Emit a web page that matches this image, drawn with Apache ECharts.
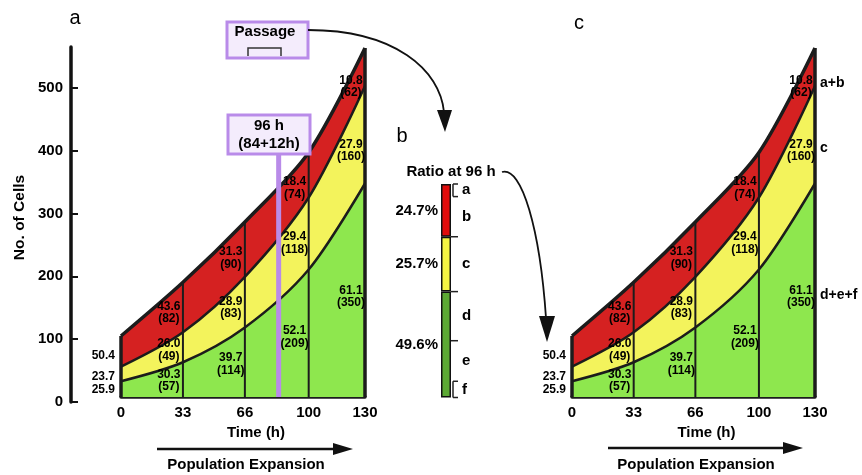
<!DOCTYPE html>
<html><head><meta charset="utf-8">
<script src="https://cdn.jsdelivr.net/npm/echarts@6/dist/echarts.min.js"></script>
<style>html,body{margin:0;padding:0;background:#fff}#c{width:862px;height:475px}</style>
</head><body><div id="c"></div>
<script>
// ---- data ----
const times = [0, 33, 66, 100, 130];
const xTickLabels = [0, 33, 66, 100, 130];
const yTickLabels = [0, 100, 200, 300, 400, 500];
const greenCells = [25.9, 57, 114, 209, 350];
const yellowCells = [23.7, 49, 83, 118, 160];
const redCells = [50.4, 82, 90, 74, 62];
const greenPct = [25.9, 30.3, 39.7, 52.1, 61.1];
const yellowPct = [23.7, 26.0, 28.9, 29.4, 27.9];
const redPct = [50.4, 43.6, 31.3, 18.4, 10.8];
const passageTime = 84;
const passageTop = 400;
const groupNames = ['d+e+f', 'c', 'a+b'];      // bottom to top
const ratioPct = [49.6, 25.7, 24.7];           // bottom to top
const subNames = ['f', 'e', 'd', 'c', 'b', 'a']; // bottom to top
const subPct = [7.6, 19.0, 23.0, 25.7, 18.8, 5.9];

const FONT = 'Liberation Sans, Arial, Helvetica, sans-serif';
const INK = '#1c1c1c';
const bandColors = ['#8ee74e', '#f3f35c', '#d52121'];
const barColors = ['#5ca934', '#f4f443', '#e10c0c'];

function textSeries(ax, items, align, dx, size) {
  return {
    type: 'custom', xAxisIndex: ax, yAxisIndex: ax, silent: true, z: 6,
    data: items.map(it => it.value),
    renderItem: function (params, api) {
      const p = api.coord([api.value(0), api.value(1)]);
      return {
        type: 'text', x: p[0] + dx, y: p[1],
        style: { text: items[params.dataIndex].text, fill: '#000', fontSize: size, fontWeight: 'bold',
          fontFamily: FONT, align: align, verticalAlign: 'middle', lineHeight: 12.5 }
      };
    }
  };
}

function panelSeries(ax, rightLabels, purple) {
  const s = [];
  const bands = [
    { vals: greenCells, pct: greenPct },
    { vals: yellowCells, pct: yellowPct },
    { vals: redCells, pct: redPct }
  ];
  const cum = bands.map((b, k) => times.map((t, i) => {
    let v = 0; for (let j = 0; j <= k; j++) v += bands[j].vals[i]; return v;
  }));
  [2, 1, 0].forEach(k => {
    s.push({
      type: 'line', xAxisIndex: ax, yAxisIndex: ax, smooth: 0.3,
      symbol: 'none', silent: true, z: 2,
      lineStyle: { color: INK, width: k === 2 ? 3.5 : 2.5 },
      areaStyle: { color: bandColors[k], opacity: 1 },
      data: times.map((t, i) => [t, cum[k][i]])
    });
  });
  const totals = cum[2];
  times.forEach((t, i) => {
    const edge = (i === 0 || i === times.length - 1);
    s.push({
      type: 'line', xAxisIndex: ax, yAxisIndex: ax, symbol: 'none', silent: true, z: 3,
      lineStyle: { color: INK, width: edge ? 3.5 : 2 },
      data: [[t, 0], [t, totals[i]]]
    });
  });
  if (purple) {
    s.push({
      type: 'line', xAxisIndex: ax, yAxisIndex: ax, symbol: 'none', silent: true, z: 4,
      lineStyle: { color: '#b98be9', width: 5 },
      data: [[passageTime, 0], [passageTime, passageTop]]
    });
  }
  const inner = [], left = [], right = [];
  times.forEach((t, i) => {
    bands.forEach((b, k) => {
      const lower = k === 0 ? 0 : cum[k - 1][i];
      const mid = lower + b.vals[i] / 2;
      if (i === 0) {
        left.push({ text: b.pct[i].toFixed(1), value: [t, mid * 0.9] });
      } else {
        inner.push({ text: b.pct[i].toFixed(1) + '\n(' + b.vals[i] + ')', value: [t - 7.5, mid * 0.94] });
      }
      if (rightLabels && i === times.length - 1) {
        right.push({ text: groupNames[k], value: [t, mid * 0.95] });
      }
    });
  });
  s.push(textSeries(ax, inner, 'center', 0, 12));
  s.push(textSeries(ax, left, 'right', -6, 12));
  if (rightLabels) s.push(textSeries(ax, right, 'left', 5, 14));
  return s;
}

const series = [].concat(panelSeries(1, false, true), panelSeries(2, true, false));

ratioPct.forEach((v, k) => {
  series.push({
    type: 'bar', xAxisIndex: 3, yAxisIndex: 3, stack: 'ratio', barWidth: 10, silent: true,
    itemStyle: { color: barColors[k], borderColor: '#111', borderWidth: 1.5 },
    data: [v]
  });
});
series.push({
  type: 'custom', xAxisIndex: 3, yAxisIndex: 3, silent: true, z: 5,
  data: [[0, 0]],
  renderItem: function (params, api) {
    const children = [];
    const cx = api.coord([0, 0])[0];
    const rEdge = cx + 5, bx = cx + 7, tEnd = cx + 12;
    const bounds = [0];
    let c = 0;
    subPct.forEach(v => { c += v; bounds.push(c); });
    const st = { stroke: '#222', lineWidth: 1.5 };
    const last = bounds.length - 1;
    bounds.forEach((b, i) => {
      const y = api.coord([0, b])[1];
      const x1 = (i === 0 || i === 1 || i === last || i === last - 1) ? bx : rEdge;
      children.push({ type: 'line', shape: { x1: x1, y1: y, x2: tEnd, y2: y }, style: st });
    });
    const vline = (a, b) => {
      children.push({ type: 'line', shape: { x1: bx, y1: api.coord([0, a])[1], x2: bx, y2: api.coord([0, b])[1] }, style: st });
    };
    vline(bounds[0], bounds[1]);
    vline(bounds[last - 1], bounds[last]);
    subNames.forEach((n, i) => {
      const y = api.coord([0, (bounds[i] + bounds[i + 1]) / 2])[1];
      children.push({ type: 'text', x: tEnd + 4, y: y, style: { text: n, fill: '#000', fontSize: 15, fontWeight: 'bold', fontFamily: FONT, align: 'left', verticalAlign: 'middle' } });
    });
    let g = 0;
    ratioPct.forEach(v => {
      const y = api.coord([0, g + v / 2])[1];
      g += v;
      children.push({ type: 'text', x: cx - 8, y: y, style: { text: v.toFixed(1) + '%', fill: '#000', fontSize: 15, fontWeight: 'bold', fontFamily: FONT, align: 'right', verticalAlign: 'middle' } });
    });
    return { type: 'group', children: children };
  }
});

const xAx = (gi) => ({
  gridIndex: gi, type: 'value', min: 0, max: 130,
  axisLine: { show: true, onZero: false, lineStyle: { color: INK, width: 3.5 } },
  axisTick: { show: false }, splitLine: { show: false },
  axisLabel: { customValues: xTickLabels, fontSize: 15, fontWeight: 'bold', color: '#000', margin: 8, fontFamily: FONT },
  name: 'Time (h)', nameLocation: 'middle', nameGap: 27,
  nameTextStyle: { fontSize: 15, fontWeight: 'bold', color: '#000', padding: [0, 0, 0, 26], fontFamily: FONT }
});
const yData = (gi) => ({ gridIndex: gi, type: 'value', min: 0, max: 600, show: false, splitLine: { show: false } });

const txt = (x, y, text, size, weight, align) => ({
  type: 'text', x: x, y: y, z: 20,
  style: { text: text, fill: '#000', fontSize: size, fontWeight: weight || 'bold', fontFamily: FONT, align: align || 'center', verticalAlign: 'middle' }
});
const arrowLine = (x1, x2, y) => ([
  { type: 'line', z: 20, shape: { x1: x1, y1: y, x2: x2 - 18, y2: y }, style: { stroke: '#111', lineWidth: 2.5 } },
  { type: 'polygon', z: 20, shape: { points: [[x2 - 20, y - 6], [x2, y], [x2 - 20, y + 6]] }, style: { fill: '#111' } }
]);

const graphic = [
  txt(75, 18, 'a', 20, 'normal'),
  txt(402, 136, 'b', 20, 'normal'),
  txt(579, 23, 'c', 20, 'normal'),
  { type: 'rect', z: 20, shape: { x: 227, y: 22, width: 81, height: 36 }, style: { fill: '#f4ecfc', stroke: '#b98be9', lineWidth: 3 } },
  txt(265, 32, 'Passage', 15),
  { type: 'polyline', z: 21, shape: { points: [[248, 56], [248, 48], [281, 48], [281, 56]] }, style: { stroke: '#333', lineWidth: 1.5, fill: null } },
  { type: 'rect', z: 20, shape: { x: 228, y: 115, width: 82, height: 39 }, style: { fill: '#f4ecfc', stroke: '#b98be9', lineWidth: 3 } },
  txt(269, 126, '96 h', 15),
  txt(269, 144, '(84+12h)', 15),
  { type: 'bezierCurve', z: 20, shape: { x1: 308, y1: 30, cpx1: 395, cpy1: 30, cpx2: 440, cpy2: 70, x2: 444, y2: 112 }, style: { stroke: '#111', lineWidth: 1.8, fill: null } },
  { type: 'polygon', z: 20, shape: { points: [[437, 110], [452, 110], [445, 132]] }, style: { fill: '#111' } },
  txt(451, 172, 'Ratio at 96 h', 15),
  { type: 'bezierCurve', z: 20, shape: { x1: 502, y1: 172, cpx1: 522, cpy1: 166, cpx2: 540, cpy2: 230, x2: 546, y2: 318 }, style: { stroke: '#111', lineWidth: 1.8, fill: null } },
  { type: 'polygon', z: 20, shape: { points: [[539, 316], [555, 316], [547, 342]] }, style: { fill: '#111' } },
  ...arrowLine(157, 353, 449),
  txt(246, 465, 'Population Expansion', 15),
  ...arrowLine(608, 803, 448),
  txt(696, 465, 'Population Expansion', 15)
];

const option = {
  animation: false,
  textStyle: { fontFamily: FONT },
  grid: [
    { left: 71, top: 47, width: 10, height: 355 },
    { left: 121, top: 31, width: 244, height: 366 },
    { left: 572, top: 31, width: 243, height: 366 },
    { left: 436, top: 184, width: 20, height: 213.5 }
  ],
  xAxis: [
    { gridIndex: 0, type: 'value', show: false },
    xAx(1), xAx(2),
    { gridIndex: 3, type: 'category', data: ['96 h'], show: false }
  ],
  yAxis: [
    { gridIndex: 0, type: 'value', min: 0, max: 565, splitLine: { show: false },
      axisLine: { show: true, lineStyle: { color: '#111', width: 3.5 } },
      axisTick: { show: true, inside: true, length: 7, customValues: yTickLabels, lineStyle: { color: '#111', width: 2 } },
      axisLabel: { customValues: yTickLabels, fontSize: 15, fontWeight: 'bold', color: '#000', margin: 8, fontFamily: FONT },
      name: 'No. of Cells', nameLocation: 'middle', nameGap: 43, nameRotate: 90,
      nameTextStyle: { fontSize: 15.5, fontWeight: 'bold', color: '#000', fontFamily: FONT, padding: [0, 0, 0, 14] } },
    yData(1), yData(2),
    { gridIndex: 3, type: 'value', min: 0, max: 100, show: false, splitLine: { show: false } }
  ],
  series: series,
  graphic: graphic
};
const chart = echarts.init(document.getElementById('c'), null, { renderer: 'canvas' });
chart.setOption(option);
</script>
</body></html>
